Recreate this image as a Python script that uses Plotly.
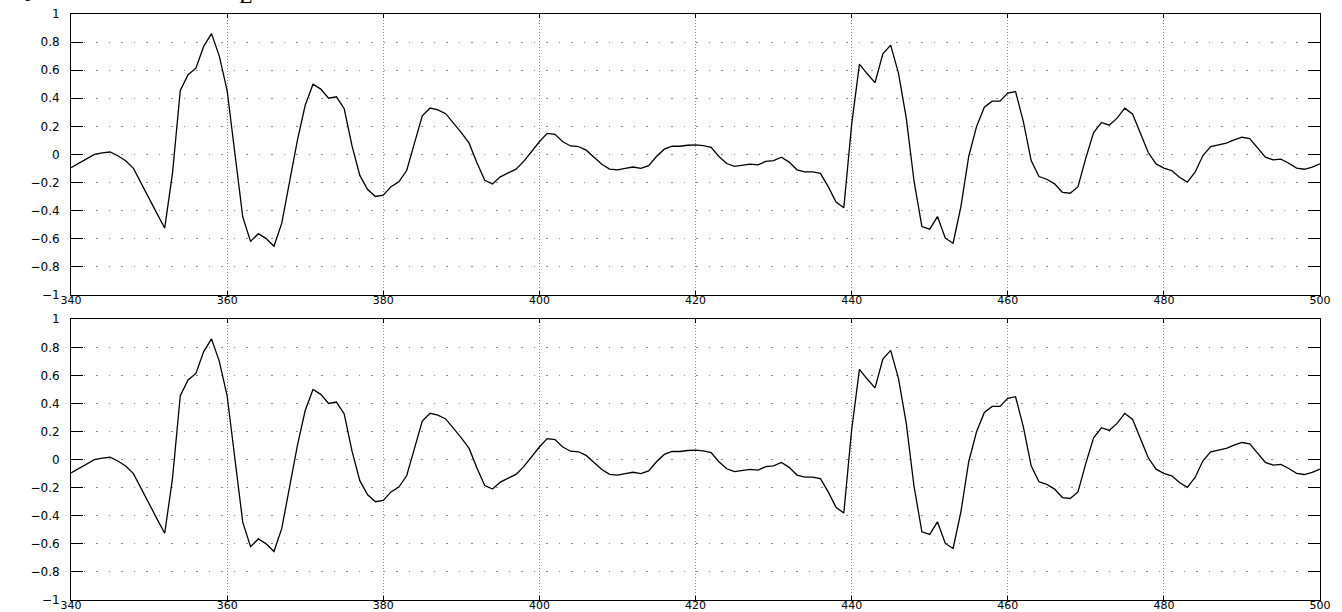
import plotly.graph_objects as go
from plotly.subplots import make_subplots

x_start = 340
x_end = 500
signal = [
    -0.095, -0.065, -0.03, 0.0, 0.01, 0.017, -0.01, -0.045, -0.1, -0.21,   # 340-349
    -0.31, -0.42, -0.525, -0.135, 0.455, 0.567, 0.614, 0.77, 0.86, 0.70,    # 350-359
    0.455, 0.0, -0.445, -0.62, -0.565, -0.6, -0.655, -0.49, -0.18, 0.1,     # 360-369
    0.35, 0.5, 0.465, 0.4, 0.41, 0.325, 0.06, -0.15, -0.25, -0.30,          # 370-379
    -0.29, -0.23, -0.195, -0.115, 0.08, 0.275, 0.33, 0.317, 0.29, 0.225,    # 380-389
    0.155, 0.08, -0.06, -0.185, -0.21, -0.16, -0.13, -0.105, -0.05, 0.02,   # 390-399
    0.09, 0.15, 0.143, 0.09, 0.06, 0.056, 0.03, -0.02, -0.07, -0.105,       # 400-409
    -0.11, -0.1, -0.09, -0.1, -0.08, -0.015, 0.037, 0.058, 0.058, 0.065,    # 410-419
    0.068, 0.063, 0.05, -0.015, -0.065, -0.085, -0.075, -0.07, -0.075, -0.05,  # 420-429
    -0.045, -0.02, -0.055, -0.11, -0.125, -0.125, -0.135, -0.23, -0.34, -0.38,  # 430-439
    0.21, 0.643, 0.574, 0.511, 0.716, 0.778, 0.579, 0.258, -0.193, -0.514,  # 440-449
    -0.533, -0.443, -0.597, -0.633, -0.372, -0.015, 0.198, 0.336, 0.379, 0.379,  # 450-459
    0.436, 0.448, 0.234, -0.044, -0.158, -0.177, -0.21, -0.27, -0.277, -0.23,    # 460-469
    -0.027, 0.156, 0.227, 0.208, 0.258, 0.329, 0.286, 0.15, 0.013, -0.068,       # 470-479
    -0.098, -0.115, -0.163, -0.198, -0.127, -0.008, 0.056, 0.068, 0.08, 0.103,   # 480-489
    0.122, 0.113, 0.044, -0.02, -0.039, -0.034, -0.063, -0.098, -0.106, -0.091,  # 490-499
    -0.068,                                                                      # 500
]
samples = list(range(x_start, x_end + 1))
assert len(samples) == len(signal)

x_ticks = [340, 360, 380, 400, 420, 440, 460, 480, 500]
y_ticks = [-1, -0.8, -0.6, -0.4, -0.2, 0, 0.2, 0.4, 0.6, 0.8, 1]
y_ticklabels = ["\u22121", "\u22120.8", "\u22120.6", "\u22120.4", "\u22120.2", "0",
                "0.2", "0.4", "0.6", "0.8", "1"]
title_glyphs = [("p", 30, -12), ("E", 245, -5)]

W, H = 1342, 612
ml, mr, mt, mb = 71, 22, 14, 12
pw, ph = W - ml - mr, H - mt - mb

fig = make_subplots(rows=2, cols=1, vertical_spacing=0.0418)

for r in (1, 2):
    fig.add_trace(go.Scatter(x=samples, y=signal, mode="lines",
                             line=dict(color="black", width=1.3),
                             showlegend=False, hoverinfo="skip"), row=r, col=1)
    fig.update_xaxes(range=[x_start, x_end], tickvals=x_ticks,
                     ticktext=[str(v) for v in x_ticks],
                     showline=True, linecolor="black", linewidth=1, mirror="ticks",
                     ticks="inside", ticklen=4, tickcolor="black",
                     showgrid=True, gridcolor="#8c8c8c", gridwidth=1, griddash="1px,2px",
                     zeroline=False, automargin=False, ticklabelstandoff=-5,
                     tickfont=dict(family="DejaVu Sans", size=11, color="black"),
                     row=r, col=1)
    fig.update_yaxes(range=[-1, 1], tickvals=y_ticks, ticktext=y_ticklabels,
                     showline=True, linecolor="black", linewidth=1, mirror="ticks",
                     ticks="inside", ticklen=12, tickcolor="black",
                     showgrid=True, gridcolor="#8c8c8c", gridwidth=1, griddash="1.5px,11px",
                     zeroline=False, automargin=False, ticklabelstandoff=8,
                     tickfont=dict(family="DejaVu Sans", size=12, color="black"),
                     row=r, col=1)

fig.update_layout(
    width=W, height=H,
    margin=dict(l=ml, r=mr, t=mt, b=mb, autoexpand=False),
    paper_bgcolor="white", plot_bgcolor="white",
)
for txt, px, py in title_glyphs:
    fig.add_annotation(text=txt, x=(px - ml) / pw, y=(H - mb - py) / ph,
                       xref="paper", yref="paper", showarrow=False,
                       xanchor="center", yanchor="middle",
                       font=dict(family="Liberation Serif", size=22, color="black"))

fig.write_html("out.html", config={"displayModeBar": False},
               post_script="document.body.style.margin='0px';document.body.style.overflow='hidden';")
